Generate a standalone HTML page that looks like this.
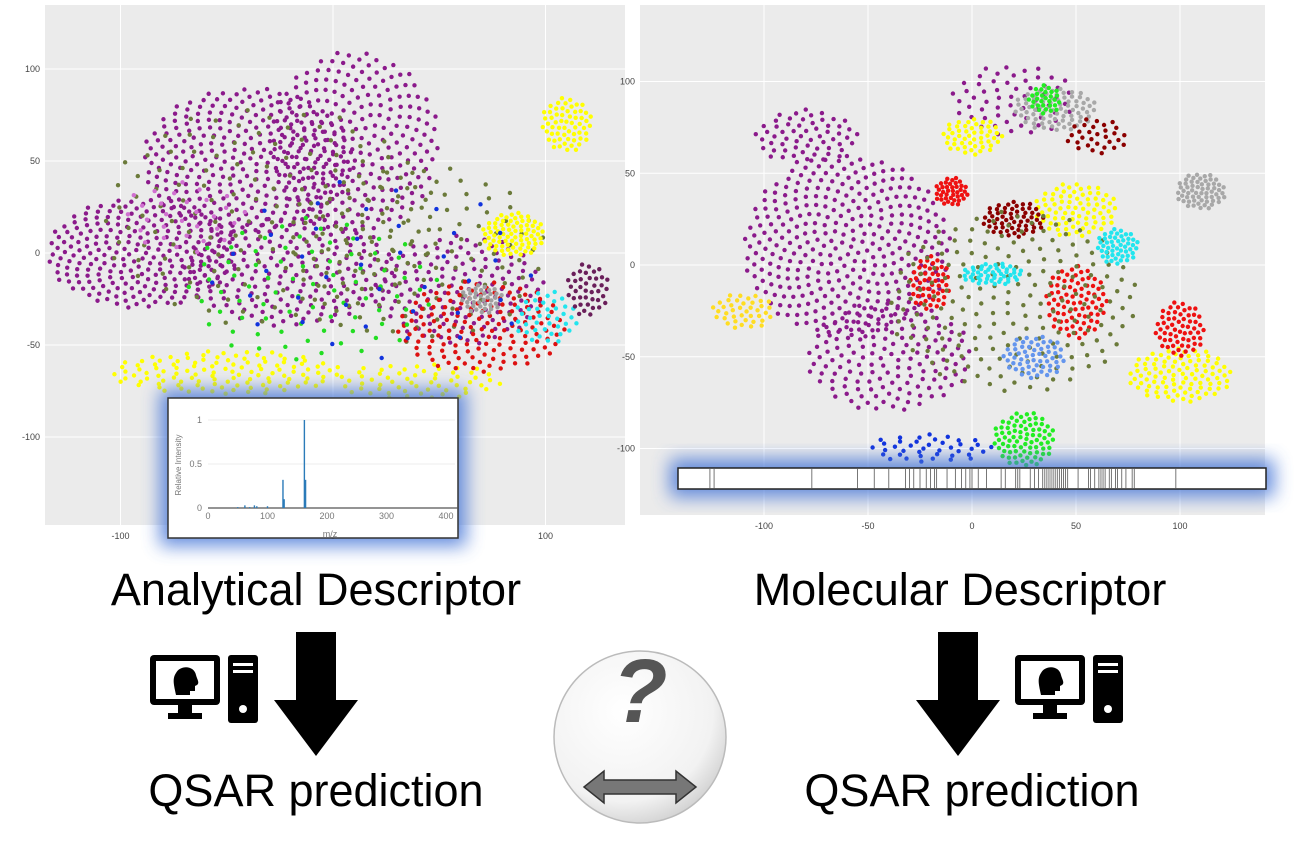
<!DOCTYPE html>
<html><head><meta charset="utf-8"><style>
body{margin:0;width:1299px;height:859px;background:#fff;overflow:hidden;font-family:"Liberation Sans",sans-serif;}
svg{position:absolute;left:0;top:0}
</style></head><body>
<svg id="s" width="1299" height="859">
<defs>
<filter id="glow" x="-20%" y="-40%" width="140%" height="180%"><feGaussianBlur stdDeviation="9"/></filter>
<radialGradient id="ball" cx="40%" cy="35%" r="70%"><stop offset="0" stop-color="#fff"/><stop offset="0.75" stop-color="#f2f2f2"/><stop offset="1" stop-color="#cfcfcf"/></radialGradient>
</defs>
<rect x="45" y="5" width="580" height="520" fill="#ebebeb"/>
<rect x="640" y="5" width="625" height="510" fill="#ebebeb"/>
<g id="grid"></g>
<g id="dotsL"></g>
<g id="dotsR"></g>
<g id="axes" font-size="9" fill="#444"></g>
<rect x="160" y="390" width="306" height="156" fill="#4a78d8" opacity="0.85" filter="url(#glow)"/>
<rect x="168" y="398" width="290" height="140" fill="#fff" stroke="#333" stroke-width="1.5"/>
<g id="spec" font-size="9" fill="#777"></g>
<rect x="670" y="459" width="604" height="38" fill="#4a78d8" opacity="0.85" filter="url(#glow)"/>
<rect x="678" y="468" width="588" height="21" fill="#fff" stroke="#222" stroke-width="1.5"/>
<g id="bars"></g>
<text x="316" y="605" font-size="45" text-anchor="middle" fill="#000">Analytical Descriptor</text>
<text x="960" y="605" font-size="45" text-anchor="middle" fill="#000">Molecular Descriptor</text>
<text x="316" y="806" font-size="45" text-anchor="middle" fill="#000">QSAR prediction</text>
<text x="972" y="806" font-size="45" text-anchor="middle" fill="#000">QSAR prediction</text>
<polygon points="296,632 336,632 336,700 358,700 316,756 274,700 296,700" fill="#000"/>
<polygon points="938,632 978,632 978,700 1000,700 958,756 916,700 938,700" fill="#000"/>
<g id="compL" transform="translate(150,655)">
<rect x="0" y="0" width="70" height="50" rx="4" fill="#000"/><rect x="6" y="6" width="58" height="38" fill="#fff"/>
<path d="M26 40 C24 30 22 24 26 18 C30 10 44 10 46 20 C47 24 50 28 47 30 L45 31 L45 36 L40 36 L40 40 Z" fill="#000"/>
<rect x="28" y="50" width="14" height="8" fill="#000"/><rect x="18" y="58" width="34" height="6" fill="#000"/>
<rect x="78" y="0" width="30" height="68" rx="3" fill="#000"/><rect x="83" y="8" width="20" height="3" fill="#fff"/><rect x="83" y="15" width="20" height="3" fill="#fff"/><circle cx="93" cy="54" r="4" fill="#fff"/>
</g>
<g id="compR" transform="translate(1015,655)">
<rect x="0" y="0" width="70" height="50" rx="4" fill="#000"/><rect x="6" y="6" width="58" height="38" fill="#fff"/>
<path d="M26 40 C24 30 22 24 26 18 C30 10 44 10 46 20 C47 24 50 28 47 30 L45 31 L45 36 L40 36 L40 40 Z" fill="#000"/>
<rect x="28" y="50" width="14" height="8" fill="#000"/><rect x="18" y="58" width="34" height="6" fill="#000"/>
<rect x="78" y="0" width="30" height="68" rx="3" fill="#000"/><rect x="83" y="8" width="20" height="3" fill="#fff"/><rect x="83" y="15" width="20" height="3" fill="#fff"/><circle cx="93" cy="54" r="4" fill="#fff"/>
</g>
<circle cx="640" cy="737" r="86" fill="url(#ball)" stroke="#bbb" stroke-width="1.5"/>
<text x="640" y="722" font-size="90" font-weight="bold" text-anchor="middle" fill="#555" font-style="italic">?</text>
<polygon points="584,787 604,771 604,780 676,780 676,771 696,787 676,803 676,794 604,794 604,803" fill="#777" stroke="#333" stroke-width="1.5"/>
</svg>
<script>
const NS="http://www.w3.org/2000/svg";
const leftCx=[-90,-40,10,-20,60,-30,40,-50,110,85,40,70,70,100,-10,20,120,-70];
const leftCy=[0,50,60,-10,-20,20,0,-65,70,10,-70,-40,-25,-35,-20,-10,-20,20];
const leftRx=[45,50,40,50,40,80,60,55,12,15,40,40,10,15,60,80,10,30];
const leftRy=[30,40,50,30,30,60,50,12,15,12,10,25,8,15,40,50,15,20];
const leftN=[250,300,250,200,150,150,120,120,60,80,60,150,40,40,80,40,40,30];
const leftCol=["#8b1a8b","#8b1a8b","#8b1a8b","#8b1a8b","#8b1a8b","#6b7a3a","#6b7a3a","#ffff00","#ffff00","#ffff00","#ffff00","#dd1111","#a0a0a0","#22e5ee","#22dd22","#1133dd","#6a1f5a","#d070d0"];
const rightCx=[-60,-40,20,-80,40,110,-110,100,50,0,50,100,-20,-10,60,20,20,70,10,25,35,30,-20];
const rightCy=[10,-50,90,70,85,40,-25,-60,30,70,-20,-35,-10,40,70,25,-20,10,-5,-95,90,-50,-100];
const rightRx=[50,40,30,25,20,12,15,25,20,15,15,12,10,8,15,15,60,10,15,15,8,15,30];
const rightRy=[50,30,20,15,12,10,10,15,15,10,20,15,15,8,10,10,50,10,6,15,8,12,8];
const rightN=[350,150,60,60,80,60,40,100,80,50,80,60,50,40,30,60,200,50,50,80,30,60,40];
const rightCol=["#8b1a8b","#8b1a8b","#8b1a8b","#8b1a8b","#a8a8a8","#a8a8a8","#ffdd22","#ffff00","#ffff00","#ffff00","#ee1111","#ee1111","#ee1111","#ee1111","#8b0000","#8b0000","#6b7a3a","#22e5ee","#22e5ee","#22ee22","#22ee22","#6495ed","#1133dd"];
const xTicksL=[-100,0,100], yTicksL=[100,50,0,-50,-100];
const xTicksR=[-100,-50,0,50,100], yTicksR=[100,50,0,-50,-100];
const specMz=[50,62,70,78,82,100,126,128,162,164];
const specInt=[0.01,0.03,0.01,0.03,0.02,0.02,0.32,0.1,1.0,0.32];
const barPos=[-126,-124,-77,-55,-47,-40,-32,-30,-28,-25,-22,-20,-18,-17,-12,-8,-5,-3,-1,0,3,7,14,16,21,22,23,28,30,32,34,35,36,37,38,39,40,41,42,43,44,45,46,51,56,57,59,61,62,63,64,66,67,69,70,72,74,77,78,98];

const xL=v=>333+2.125*v, yL=v=>253-1.84*v;
const xR=v=>972+2.08*v, yR=v=>265-1.835*v;
const grid=document.getElementById('grid'), axes=document.getElementById('axes');
function line(p,x1,y1,x2,y2,c,w){const l=document.createElementNS(NS,'line');l.setAttribute('x1',x1);l.setAttribute('y1',y1);l.setAttribute('x2',x2);l.setAttribute('y2',y2);l.setAttribute('stroke',c);l.setAttribute('stroke-width',w);p.appendChild(l);return l;}
function txt(p,x,y,s,a){const t=document.createElementNS(NS,'text');t.setAttribute('x',x);t.setAttribute('y',y);t.setAttribute('text-anchor',a);t.textContent=s;p.appendChild(t);return t;}
function drawAxes(xs,ys,fx,fy,x0,x1,y0,y1){
  xs.forEach(v=>{line(grid,fx(v),y0,fx(v),y1,'#fff',1);const t=txt(axes,fx(v),y1+14,v,'middle');});
  ys.forEach(v=>{line(grid,x0,fy(v),x1,fy(v),'#fff',1);const t=txt(axes,x0-5,fy(v)+3,v,'end');});
}
drawAxes(xTicksL,yTicksL,xL,yL,45,625,5,525);
drawAxes(xTicksR,yTicksR,xR,yR,640,1265,5,515);
function drawDots(g,cx,cy,rx,ry,n,col,fx,fy){
  const ga=Math.PI*(3-Math.sqrt(5));
  for(let k=0;k<cx.length;k++){
    for(let i=0;i<n[k];i++){
      const r=Math.sqrt((i+0.5)/n[k]), a=i*ga+k;
      const c=document.createElementNS(NS,'circle');
      c.setAttribute('cx',fx(cx[k]+rx[k]*r*Math.cos(a)));
      c.setAttribute('cy',fy(cy[k]+ry[k]*r*Math.sin(a)));
      c.setAttribute('r',2.2);c.setAttribute('fill',col[k]);
      
      
      g.appendChild(c);
    }
  }
}
drawDots(document.getElementById('dotsL'),leftCx,leftCy,leftRx,leftRy,leftN,leftCol,xL,yL);
drawDots(document.getElementById('dotsR'),rightCx,rightCy,rightRx,rightRy,rightN,rightCol,xR,yR);
const spec=document.getElementById('spec');
const sx=v=>208+v*0.595, sy=v=>508-v*88;
[0,0.5,1].forEach(v=>{line(spec,208,sy(v),455,sy(v),'#eee',1);txt(spec,202,sy(v)+3,v,'end');});
line(spec,208,508,458,508,'#555',1.2);
[0,100,200,300,400].forEach(v=>txt(spec,sx(v),519,v,'middle'));
const ml=txt(spec,330,537,'m/z','middle');
const yl=txt(spec,181,465,'Relative Intensity','middle');yl.setAttribute('transform','rotate(-90 181 465)');yl.setAttribute('font-size','8');
specMz.forEach((m,i)=>{const l=line(spec,sx(m),sy(0),sx(m),sy(specInt[i]),'#2b7bb9',1.4);});
const bars=document.getElementById('bars');
barPos.forEach(v=>{const l=line(bars,xR(v),468,xR(v),489,'#555',0.8);});
</script>
</body></html>
